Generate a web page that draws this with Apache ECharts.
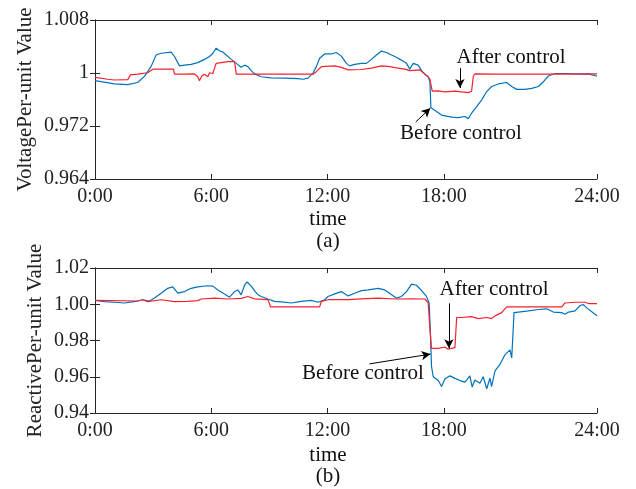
<!DOCTYPE html>
<html>
<head>
<meta charset="utf-8">
<script src="https://cdn.jsdelivr.net/npm/echarts@6/dist/echarts.min.js"></script>
<style>
  html, body { margin: 0; padding: 0; background: #fff; }
  #main { width: 636px; height: 489px; }
</style>
</head>
<body>
<div id="main"></div>
<script>
// 时间轴
var hourTicks = [0, 6, 12, 18, 25.9];
var hourLabels = ['0:00', '6:00', '12:00', '18:00', '24:00'];

// 电压 (a)
var voltageLabels = ['0.964', '0.972', '1', '1.008'];
var voltageBeforeTime = [0, 1.00, 1.69, 2.20, 2.55, 2.89, 3.15, 3.41, 3.93, 4.10, 4.36, 4.62, 4.96, 5.30, 5.65, 5.91, 6.08, 6.25, 6.42, 6.60, 6.77, 7.03, 7.29, 7.54, 7.72, 7.89, 8.06, 8.23, 8.58, 9.09, 9.78, 10.47, 10.73, 10.82, 10.99, 11.25, 11.42, 11.59, 11.85, 12.20, 12.45, 12.71, 12.97, 13.14, 13.40, 13.75, 14.00, 14.26, 14.52, 14.78, 15.04, 15.30, 15.55, 15.81, 16.07, 16.24, 16.42, 16.67, 16.85, 17.02, 17.19, 17.28, 17.33, 17.45, 17.88, 18.40, 18.74, 19.09, 19.26, 19.43, 19.69, 19.95, 20.21, 20.46, 20.81, 21.24, 21.50, 21.76, 22.19, 22.53, 22.88, 23.13, 23.39, 23.74, 24.43, 24.94, 25.46, 25.80, 25.9];
var voltageBeforeValue = [0.9912, 0.9903, 0.9901, 0.9907, 0.9924, 0.9951, 0.9983, 0.9988, 0.9991, 0.9979, 0.9953, 0.9955, 0.9957, 0.9962, 0.9971, 0.9979, 0.9988, 1.0002, 0.9995, 0.9991, 0.9983, 0.9971, 0.9960, 0.9949, 0.9955, 0.9951, 0.9940, 0.9931, 0.9923, 0.9920, 0.9919, 0.9918, 0.9916, 0.9911, 0.9919, 0.9933, 0.9951, 0.9974, 0.9986, 0.9986, 0.9990, 0.9980, 0.9960, 0.9953, 0.9957, 0.9960, 0.9960, 0.9971, 0.9983, 0.9994, 0.9990, 0.9983, 0.9977, 0.9969, 0.9960, 0.9944, 0.9960, 0.9955, 0.9940, 0.9930, 0.9923, 0.9909, 0.9838, 0.9833, 0.9817, 0.9811, 0.9810, 0.9813, 0.9807, 0.9822, 0.9840, 0.9859, 0.9882, 0.9896, 0.9903, 0.9907, 0.9896, 0.9888, 0.9888, 0.9891, 0.9896, 0.9909, 0.9925, 0.9932, 0.9932, 0.9930, 0.9931, 0.9926, 0.9925];
var voltageAfterTime = [0, 0.65, 1.00, 1.69, 1.82, 2.20, 2.72, 2.98, 3.41, 4.05, 4.10, 4.62, 5.13, 5.30, 5.39, 5.51, 5.65, 5.82, 5.91, 6.08, 6.25, 6.34, 6.86, 7.20, 7.29, 7.54, 8.58, 10.30, 11.25, 11.42, 11.68, 12.37, 12.71, 13.06, 13.75, 14.26, 14.78, 15.21, 15.47, 15.98, 16.24, 16.76, 16.93, 17.19, 17.28, 17.40, 17.71, 18.05, 18.57, 18.91, 19.26, 19.43, 19.52, 19.60, 20.64, 22.36, 24.08, 25.80, 25.9];
var voltageAfterValue = [0.9921, 0.9916, 0.9914, 0.9915, 0.9928, 0.9930, 0.9934, 0.9944, 0.9944, 0.9944, 0.9930, 0.9930, 0.9931, 0.9923, 0.9912, 0.9925, 0.9930, 0.9923, 0.9934, 0.9932, 0.9960, 0.9964, 0.9965, 0.9965, 0.9930, 0.9930, 0.9930, 0.9930, 0.9930, 0.9937, 0.9951, 0.9953, 0.9949, 0.9942, 0.9943, 0.9947, 0.9953, 0.9951, 0.9948, 0.9944, 0.9940, 0.9942, 0.9934, 0.9923, 0.9916, 0.9883, 0.9884, 0.9881, 0.9883, 0.9881, 0.9879, 0.9883, 0.9925, 0.9931, 0.9930, 0.9930, 0.9930, 0.9931, 0.9931];

// 无功 (b)
var reactiveLabels = ['0.94', '0.96', '0.98', '1.00', '1.02'];
var reactiveBeforeTime = [0, 0.48, 1.00, 1.51, 2.03, 2.46, 2.81, 3.07, 3.41, 3.75, 4.01, 4.27, 4.62, 4.96, 5.30, 5.82, 6.08, 6.34, 6.68, 6.94, 7.20, 7.37, 7.54, 7.72, 7.85, 8.06, 8.23, 8.41, 8.58, 8.92, 9.27, 9.61, 10.13, 10.64, 11.16, 11.51, 11.85, 12.02, 12.37, 12.71, 13.06, 13.40, 13.75, 14.09, 14.61, 14.95, 15.30, 15.55, 15.81, 16.07, 16.33, 16.59, 16.85, 17.10, 17.24, 17.31, 17.36, 17.45, 17.71, 17.88, 18.05, 18.31, 18.57, 18.83, 19.09, 19.34, 19.46, 19.60, 19.86, 20.03, 20.21, 20.38, 20.46, 20.64, 20.89, 21.15, 21.41, 21.50, 21.62, 21.84, 22.36, 22.88, 23.31, 23.65, 24.08, 24.25, 24.43, 24.77, 25.03, 25.20, 25.37, 25.68, 25.9];
var reactiveBeforeValue = [1.0021, 1.0014, 1.0011, 1.0007, 1.0014, 1.0025, 1.0018, 1.0034, 1.0061, 1.0088, 1.0096, 1.0061, 1.0070, 1.0088, 1.0096, 1.0102, 1.0100, 1.0079, 1.0057, 1.0039, 1.0070, 1.0079, 1.0052, 1.0105, 1.0123, 1.0100, 1.0075, 1.0052, 1.0043, 1.0029, 1.0016, 1.0013, 1.0007, 1.0016, 1.0021, 1.0011, 1.0025, 1.0043, 1.0057, 1.0070, 1.0046, 1.0061, 1.0075, 1.0079, 1.0088, 1.0079, 1.0052, 1.0034, 1.0043, 1.0070, 1.0111, 1.0105, 1.0075, 1.0043, 1.0007, 0.9829, 0.9659, 0.9600, 0.9579, 0.9546, 0.9587, 0.9605, 0.9591, 0.9579, 0.9570, 0.9605, 0.9543, 0.9582, 0.9564, 0.9600, 0.9534, 0.9593, 0.9546, 0.9632, 0.9668, 0.9721, 0.9748, 0.9704, 0.9954, 0.9957, 0.9963, 0.9971, 0.9975, 0.9957, 0.9954, 0.9945, 0.9957, 0.9963, 0.9993, 0.9998, 0.9980, 0.9954, 0.9936];
var reactiveAfterTime = [0, 2.20, 2.46, 2.72, 3.41, 4.10, 4.79, 5.30, 5.48, 6.17, 6.86, 7.54, 7.89, 8.23, 8.92, 9.06, 10.30, 11.16, 11.59, 11.68, 12.02, 13.06, 13.75, 14.61, 15.47, 16.33, 17.02, 17.19, 17.28, 17.36, 17.71, 18.05, 18.22, 18.40, 18.57, 18.66, 18.91, 19.43, 19.77, 20.21, 20.46, 20.64, 20.98, 21.24, 21.67, 22.36, 24.08, 24.25, 24.77, 25.29, 25.46, 25.9];
var reactiveAfterValue = [1.0021, 1.0018, 1.0025, 1.0014, 1.0025, 1.0014, 1.0016, 1.0020, 1.0029, 1.0034, 1.0029, 1.0032, 1.0043, 1.0030, 1.0025, 0.9986, 0.9986, 0.9986, 0.9986, 1.0016, 1.0025, 1.0025, 1.0030, 1.0034, 1.0029, 1.0030, 1.0029, 1.0007, 0.9864, 0.9757, 0.9757, 0.9764, 0.9752, 0.9757, 0.9761, 0.9927, 0.9927, 0.9932, 0.9921, 0.9927, 0.9921, 0.9936, 0.9954, 0.9986, 0.9986, 0.9986, 0.9986, 1.0007, 1.0011, 1.0011, 1.0004, 1.0004];

var vMin = 0.964, vMax = 1.008;
var rMin = 0.94, rMax = 1.02;
var xMax = 25.9;

var axisColor = '#262626';
var fontFamily = '"Liberation Serif", "Times New Roman", serif';
var blue = '#0072BD';
var red = '#F5222D';

function zip(t, v) {
  return t.map(function (x, i) { return [x, v[i]]; });
}
function evenTicks(min, max, n) {
  var arr = [];
  for (var i = 0; i < n; i++) arr.push(min + i * (max - min) / (n - 1));
  return arr;
}
function nearestLabel(ticks, labels) {
  return function (val) {
    var best = 0;
    for (var i = 1; i < ticks.length; i++) {
      if (Math.abs(ticks[i] - val) < Math.abs(ticks[best] - val)) best = i;
    }
    return labels[best];
  };
}

var voltageTicks = evenTicks(vMin, vMax, voltageLabels.length);
var reactiveTicks = evenTicks(rMin, rMax, reactiveLabels.length);

function xAxisPair(gridIndex) {
  return [{
    type: 'value', gridIndex: gridIndex, min: 0, max: xMax, position: 'bottom',
    axisLine: { lineStyle: { color: axisColor, width: 1 } },
    axisTick: { inside: true, length: 5, customValues: hourTicks, lineStyle: { color: axisColor } },
    axisLabel: { customValues: hourTicks, formatter: nearestLabel(hourTicks, hourLabels), margin: 8,
      fontFamily: fontFamily, fontSize: 20, color: '#222' },
    splitLine: { show: false }
  }, {
    type: 'value', gridIndex: gridIndex, min: 0, max: xMax, position: 'top',
    axisLine: { lineStyle: { color: axisColor, width: 1 } },
    axisTick: { inside: true, length: 5, customValues: hourTicks, lineStyle: { color: axisColor } },
    axisLabel: { show: false },
    splitLine: { show: false }
  }];
}
function yAxisPair(gridIndex, min, max, ticks, labels, name, gap) {
  return [{
    type: 'value', gridIndex: gridIndex, min: min, max: max, position: 'left',
    name: name, nameLocation: 'middle', nameGap: gap, nameMoveOverlap: false,
    nameTextStyle: { fontFamily: fontFamily, fontSize: 21, color: '#222' },
    axisLine: { show: true, lineStyle: { color: axisColor, width: 1 } },
    axisTick: { show: true, inside: true, length: 5, customValues: ticks, lineStyle: { color: axisColor } },
    axisLabel: { customValues: ticks, formatter: nearestLabel(ticks, labels), margin: 6,
      fontFamily: fontFamily, fontSize: 20, color: '#222' },
    splitLine: { show: false }
  }, {
    type: 'value', gridIndex: gridIndex, min: min, max: max, position: 'right',
    axisLine: { show: true, lineStyle: { color: axisColor, width: 1 } },
    axisTick: { show: true, inside: true, length: 5, customValues: ticks, lineStyle: { color: axisColor } },
    axisLabel: { show: false },
    splitLine: { show: false }
  }];
}

function arrows(list) {
  return {
    silent: true,
    symbol: ['none', 'arrow'],
    symbolSize: [7, 9],
    lineStyle: { color: '#000', width: 1, type: 'solid' },
    label: { show: false },
    emphasis: { disabled: true },
    data: list.map(function (a) { return [{ coord: a[0] }, { coord: a[1] }]; })
  };
}

function label(text, x, y) {
  return {
    type: 'text', x: x, y: y,
    style: { text: text, font: '21px ' + fontFamily, fill: '#111', align: 'center', verticalAlign: 'middle' }
  };
}

var myChart = echarts.init(document.getElementById('main'));

var option = {
  animation: false,
  backgroundColor: '#fff',
  grid: [
    { left: 95, right: 39, top: 20, height: 159 },
    { left: 95, right: 39, top: 268, height: 145 }
  ],
  xAxis: xAxisPair(0).concat(xAxisPair(1)),
  yAxis: yAxisPair(0, vMin, vMax, voltageTicks, voltageLabels, 'VoltagePer-unit Value', 59)
    .concat(yAxisPair(1, rMin, rMax, reactiveTicks, reactiveLabels, 'ReactivePer-unit Value', 49)),
  series: [
    {
      name: 'Before control', type: 'line', xAxisIndex: 0, yAxisIndex: 0,
      data: zip(voltageBeforeTime, voltageBeforeValue), symbol: 'none',
      lineStyle: { color: blue, width: 1.2 }, itemStyle: { color: blue },
      markLine: arrows([
        [[16.55, 0.9798], [17.30, 0.9836]]
      ])
    },
    {
      name: 'After control', type: 'line', xAxisIndex: 0, yAxisIndex: 0,
      data: zip(voltageAfterTime, voltageAfterValue), symbol: 'none',
      lineStyle: { color: red, width: 1.2 }, itemStyle: { color: red },
      markLine: arrows([
        [[18.83, 0.9947], [18.83, 0.9892]]
      ])
    },
    {
      name: 'Before control', type: 'line', xAxisIndex: 2, yAxisIndex: 2,
      data: zip(reactiveBeforeTime, reactiveBeforeValue), symbol: 'none',
      lineStyle: { color: blue, width: 1.2 }, itemStyle: { color: blue },
      markLine: arrows([
        [[14.16, 0.9671], [17.31, 0.9725]]
      ])
    },
    {
      name: 'After control', type: 'line', xAxisIndex: 2, yAxisIndex: 2,
      data: zip(reactiveAfterTime, reactiveAfterValue), symbol: 'none',
      lineStyle: { color: red, width: 1.2 }, itemStyle: { color: red },
      markLine: arrows([
        [[18.26, 1.0005], [18.26, 0.9757]]
      ])
    }
  ],
  graphic: [
    label('time', 328, 219),
    label('(a)', 328, 241),
    label('time', 328, 455),
    label('(b)', 328, 476),
    label('After control', 511, 57),
    label('Before control', 461, 133),
    label('After control', 494, 289),
    label('Before control', 363, 373)
  ]
};

myChart.setOption(option);
</script>
</body>
</html>
